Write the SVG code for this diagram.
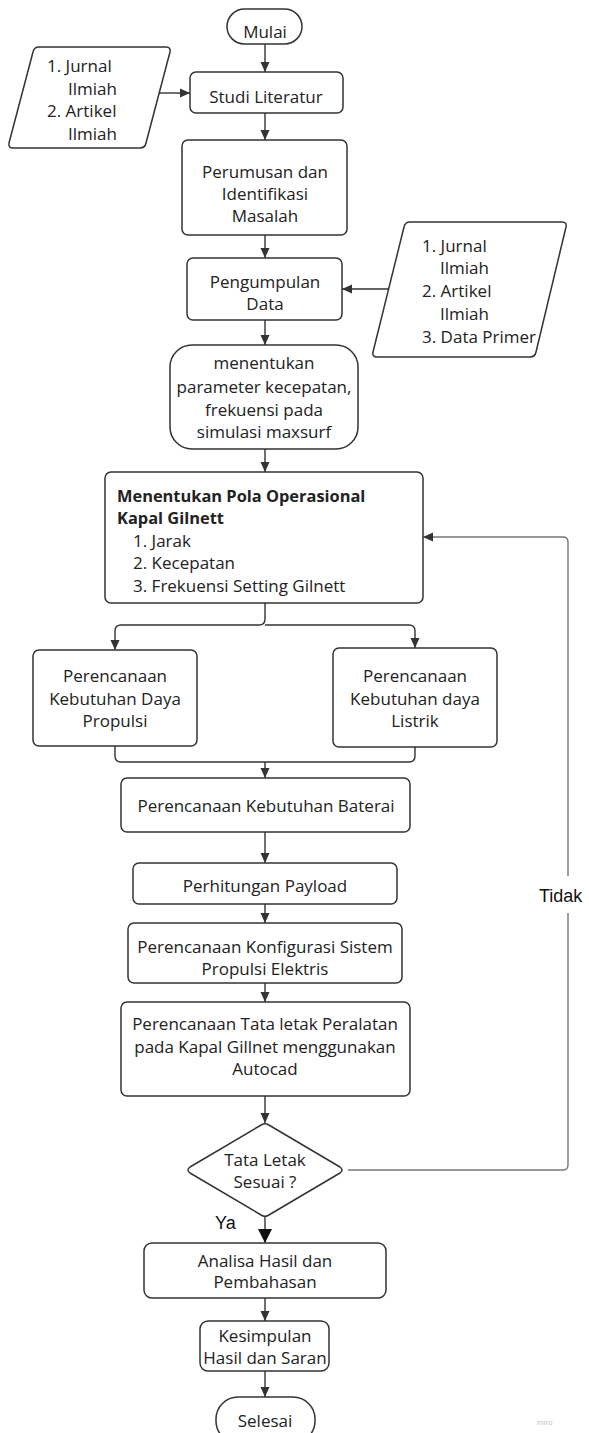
<svg xmlns="http://www.w3.org/2000/svg" width="589" height="1433" viewBox="0 0 589 1433">
<style>
.n{fill:#fff;stroke:#333;stroke-width:1.5}
.t{font-family:"Open Sans","Noto Sans",sans-serif;font-size:17px;fill:#222}
.c{text-anchor:middle}
.b{font-weight:bold;font-size:16.4px}
.l{font-family:"Liberation Sans",Arial,sans-serif;font-size:18px;fill:#111}
.e{fill:none;stroke:#333;stroke-width:1.4}
.g{fill:none;stroke:#777;stroke-width:1.4}
</style>
<defs>
<marker id="a" markerUnits="userSpaceOnUse" markerWidth="12" markerHeight="12" refX="10" refY="5" orient="auto" viewBox="0 0 12 10">
<path d="M0,0.5 L10,5 L0,9.5 Z" fill="#333"/>
</marker>
<marker id="A" markerUnits="userSpaceOnUse" markerWidth="16" markerHeight="16" refX="14" refY="7" orient="auto" viewBox="0 0 16 14">
<path d="M0,0 L14,7 L0,14 Z" fill="#111"/>
</marker>
</defs>
<rect width="589" height="1433" fill="#fff"/>
<g id="connectors">
<path class="e" d="M265,44 V72" marker-end="url(#a)"/>
<path class="e" d="M159,93 H190" marker-end="url(#a)"/>
<path class="e" d="M265,113 V140" marker-end="url(#a)"/>
<path class="e" d="M265,235 V258" marker-end="url(#a)"/>
<path class="e" d="M388,289 H342" marker-end="url(#a)"/>
<path class="e" d="M265,320 V345" marker-end="url(#a)"/>
<path class="e" d="M265,449 V472" marker-end="url(#a)"/>
<path class="e" d="M265,603 V619 Q265,625 259,625 H121 Q115,625 115,631 V650" marker-end="url(#a)"/>
<path class="e" d="M265,625 H409 Q415,625 415,631 V648" marker-end="url(#a)"/>
<path class="e" d="M115,746 V756 Q115,762 121,762 H409 Q415,762 415,756 V747"/>
<path class="e" d="M265,762 V778" marker-end="url(#a)"/>
<path class="e" d="M265,832 V863" marker-end="url(#a)"/>
<path class="e" d="M265,904 V923" marker-end="url(#a)"/>
<path class="e" d="M265,983 V1002" marker-end="url(#a)"/>
<path class="e" d="M265,1096 V1123" marker-end="url(#a)"/>
<path class="g" d="M348,1170 H563 Q568,1170 568,1165 V542 Q568,537 563,537 H423" marker-end="url(#a)"/>
<path class="e" d="M265,1217 V1243" stroke="#111" marker-end="url(#A)"/>
<path class="e" d="M265,1298 V1321" marker-end="url(#a)"/>
<path class="e" d="M265,1371 V1397" marker-end="url(#a)"/>
<rect x="523" y="876" width="70" height="37" fill="#fff"/>
<text class="l" x="539" y="902">Tidak</text>
<text class="l" x="215" y="1229">Ya</text>
</g>
<g id="mulai">
<rect class="n" x="227" y="9" width="75" height="35" rx="17.5"/>
<text class="t c" x="265" y="38">Mulai</text>
</g>
<g id="input1">
<path class="n" d="M39,47 L166,47 Q171,47 170,52 L146,143 Q145,148 140,148 L13,148 Q8,148 9,143 L33,52 Q34,47 39,47 Z"/>
<text class="t" x="47" y="72">1. Jurnal</text>
<text class="t" x="68" y="95">Ilmiah</text>
<text class="t" x="47" y="117">2. Artikel</text>
<text class="t" x="68" y="140">Ilmiah</text>
</g>
<g id="studi">
<rect class="n" x="190" y="72" width="153" height="41" rx="6"/>
<text class="t c" x="266" y="103">Studi Literatur</text>
</g>
<g id="perumusan">
<rect class="n" x="182" y="140" width="165" height="95" rx="6"/>
<text class="t c" x="265" y="178">Perumusan dan</text>
<text class="t c" x="265" y="200">Identifikasi</text>
<text class="t c" x="265" y="222">Masalah</text>
</g>
<g id="pengumpulan">
<rect class="n" x="187" y="258" width="155" height="62" rx="6"/>
<text class="t c" x="265" y="288">Pengumpulan</text>
<text class="t c" x="265" y="310">Data</text>
</g>
<g id="input2">
<path class="n" d="M410,222 L562,222 Q567,222 566,227 L536,352 Q535,357 530,357 L377,357 Q372,357 373,352 L404,227 Q405,222 410,222 Z"/>
<text class="t" x="422" y="252">1. Jurnal</text>
<text class="t" x="440" y="274">Ilmiah</text>
<text class="t" x="422" y="297">2. Artikel</text>
<text class="t" x="440" y="320">Ilmiah</text>
<text class="t" x="422" y="343">3. Data Primer</text>
</g>
<g id="parameter">
<rect class="n" x="170" y="345" width="188" height="104" rx="22"/>
<text class="t c" x="264" y="369">menentukan</text>
<text class="t c" x="264" y="393">parameter kecepatan,</text>
<text class="t c" x="264" y="416">frekuensi pada</text>
<text class="t c" x="264" y="438">simulasi maxsurf</text>
</g>
<g id="pola">
<rect class="n" x="105" y="472" width="318" height="131" rx="6"/>
<text class="t b" x="117" y="502">Menentukan Pola Operasional</text>
<text class="t b" x="117" y="524">Kapal Gilnett</text>
<text class="t" x="133" y="547">1. Jarak</text>
<text class="t" x="133" y="569">2. Kecepatan</text>
<text class="t" x="133" y="592">3. Frekuensi Setting Gilnett</text>
</g>
<g id="daya">
<rect class="n" x="33" y="650" width="164" height="96" rx="6"/>
<text class="t c" x="115" y="682">Perencanaan</text>
<text class="t c" x="115" y="705">Kebutuhan Daya</text>
<text class="t c" x="115" y="727">Propulsi</text>
</g>
<g id="listrik">
<rect class="n" x="333" y="648" width="164" height="99" rx="6"/>
<text class="t c" x="415" y="682">Perencanaan</text>
<text class="t c" x="415" y="705">Kebutuhan daya</text>
<text class="t c" x="415" y="727">Listrik</text>
</g>
<g id="baterai">
<rect class="n" x="121" y="778" width="289" height="54" rx="6"/>
<text class="t c" x="266" y="812">Perencanaan Kebutuhan Baterai</text>
</g>
<g id="payload">
<rect class="n" x="133" y="863" width="264" height="41" rx="6"/>
<text class="t c" x="265" y="892">Perhitungan Payload</text>
</g>
<g id="konfigurasi">
<rect class="n" x="128" y="923" width="274" height="60" rx="6"/>
<text class="t c" x="265" y="953">Perencanaan Konfigurasi Sistem</text>
<text class="t c" x="265" y="975">Propulsi Elektris</text>
</g>
<g id="tataletak">
<rect class="n" x="121" y="1002" width="289" height="94" rx="6"/>
<text class="t c" x="265" y="1030">Perencanaan Tata letak Peralatan</text>
<text class="t c" x="265" y="1053">pada Kapal Gillnet menggunakan</text>
<text class="t c" x="265" y="1075">Autocad</text>
</g>
<g id="keputusan">
<path class="n" stroke-linejoin="round" d="M262,1124.5 Q265,1123 268,1124.5 L340,1167 Q344,1170 340,1173 L268,1215.5 Q265,1217 262,1215.5 L190,1173 Q186,1170 190,1167 Z"/>
<text class="t c" x="265" y="1166">Tata Letak</text>
<text class="t c" x="265" y="1188">Sesuai ?</text>
</g>
<g id="analisa">
<rect class="n" x="144" y="1243" width="242" height="55" rx="8"/>
<text class="t c" x="265" y="1267">Analisa Hasil dan</text>
<text class="t c" x="265" y="1288">Pembahasan</text>
</g>
<g id="kesimpulan">
<rect class="n" x="200" y="1321" width="129" height="50" rx="8"/>
<text class="t c" x="265" y="1342">Kesimpulan</text>
<text class="t c" x="265" y="1364">Hasil dan Saran</text>
</g>
<g id="selesai">
<rect class="n" x="216" y="1397" width="99" height="46" rx="22"/>
<text class="t c" x="265" y="1427">Selesai</text>
</g>
<text x="537" y="1425" font-family="'Liberation Sans',Arial,sans-serif" font-size="8" fill="#c4c4c4">miro</text>
</svg>
